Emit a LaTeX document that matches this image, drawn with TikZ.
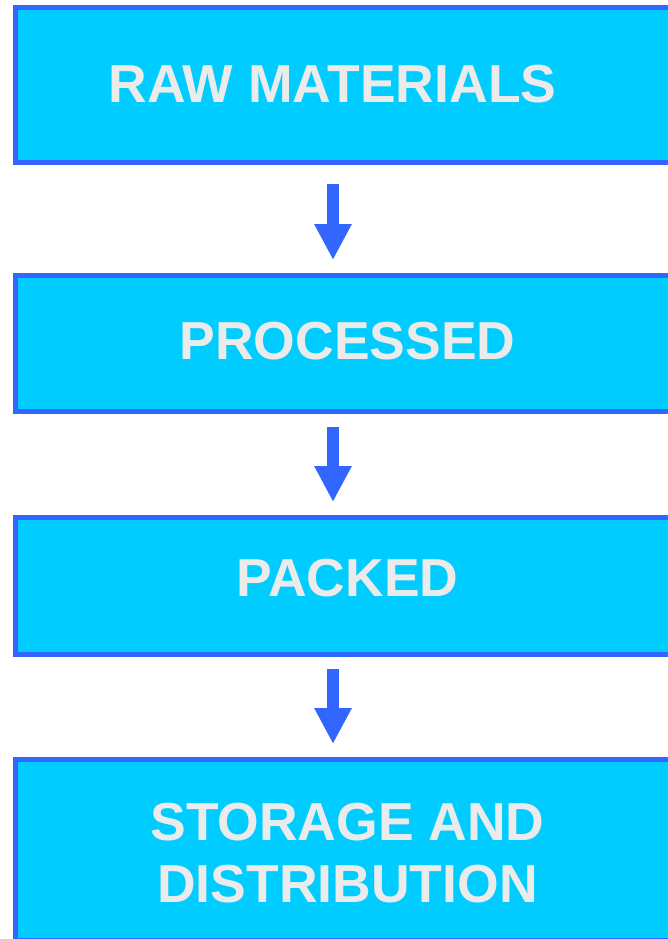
\documentclass[tikz,border=0pt]{standalone}
\usepackage{fontspec}
\setmainfont{Liberation Sans}
\usetikzlibrary{arrows.meta}
\definecolor{boxfill}{HTML}{00CCFF}
\definecolor{boxline}{HTML}{3366FF}
\definecolor{labeltext}{HTML}{EBEBEB}
\begin{document}
\begin{tikzpicture}[x=1bp,y=-1bp,
  stage/.style={draw=boxline,fill=boxfill,line width=5bp,rectangle,
    minimum width=663bp,inner sep=0pt,outer sep=0pt},
  stagetext/.style={text=labeltext,font=\bfseries\fontsize{53.5bp}{62bp}\selectfont,
    anchor=base,inner sep=0pt,align=center},
  flow/.style={draw=boxline,line width=12bp,
    -{Triangle[width=35bp,length=36bp]}}]
  \useasboundingbox (0,0) rectangle (668,939);
  \clip (0,0) rectangle (668,939);

  % stage boxes (path centre lines)
  \node[stage,minimum height=155bp] (raw)  at (347,85)    {};
  \node[stage,minimum height=136bp] (proc) at (347,343.5) {};
  \node[stage,minimum height=137bp] (pack) at (347,586)   {};
  \node[stage,minimum height=181bp] (dist) at (347,850)   {};

  % labels
  \node[stagetext] (rawt)  at (332.5,102) {RAW MATERIALS};
  \node[stagetext] (proct) at (347.5,359) {PROCESSED};
  \node[stagetext] (packt) at (347.5,596) {PACKED};
  \node[stagetext] (distt) at (347.5,840) {STORAGE AND};
  \node[stagetext] (distu) at (347.5,902) {DISTRIBUTION};

  % flow arrows between the stages
  \draw[flow,shorten <=21.5bp,shorten >=15.5bp] (raw.south -| 333,0) -- (proc.north -| 333,0);
  \draw[flow,shorten <=15.5bp,shorten >=15.5bp] (proc.south -| 333,0) -- (pack.north -| 333,0);
  \draw[flow,shorten <=14.5bp,shorten >=15.5bp] (pack.south -| 333,0) -- (dist.north -| 333,0);
\end{tikzpicture}
\end{document}
